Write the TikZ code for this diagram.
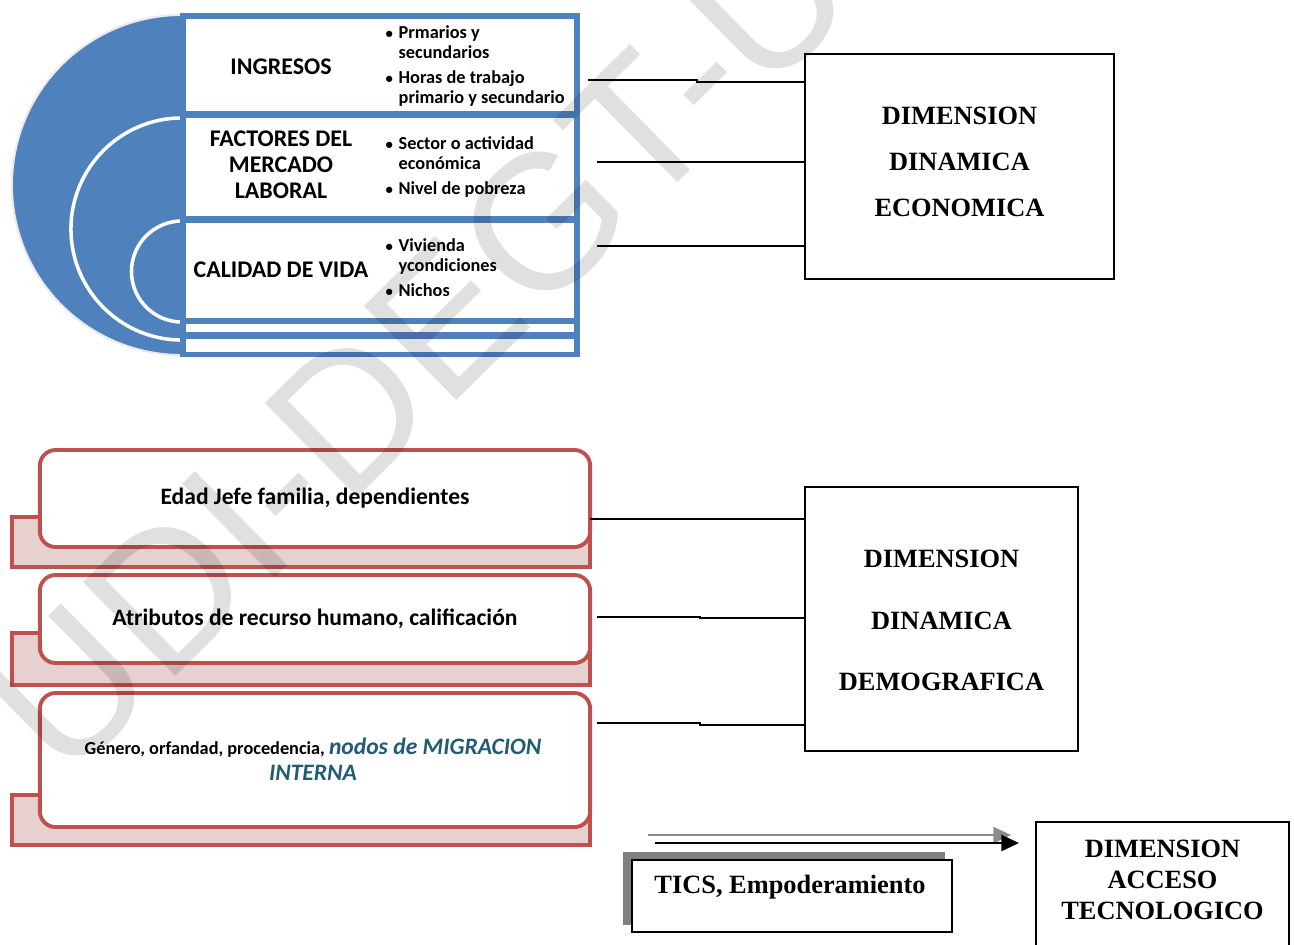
\documentclass[tikz,border=0pt]{standalone}
\usepackage{fontspec}
\setmainfont{Liberation Serif}
\newfontfamily\calibri{Carlito}
\newfontfamily\wmfont{Liberation Sans}
\usepackage{tikz}
\usetikzlibrary{positioning,arrows.meta,calc}
\definecolor{smartblue}{RGB}{79,129,189}
\definecolor{smartred}{RGB}{192,80,77}
\definecolor{smartpink}{RGB}{231,208,208}
\definecolor{migteal}{RGB}{33,92,112}
\newcommand{\bdot}{{\fontsize{4.2}{4.2}\selectfont\textbullet}}

\tikzset{
  head/.style={font=\calibri\bfseries\fontsize{6.8}{7.4}\selectfont, align=center, inner sep=0pt},
  bul/.style={font=\calibri\bfseries\fontsize{5.2}{5.75}\selectfont, anchor=west, inner sep=0pt},
  conn/.style={black, line width=0.55pt},
  dimbox/.style={draw=black, line width=0.5pt, fill=white, inner sep=0pt},
  dimtext/.style={font=\bfseries\fontsize{7.5}{13}\selectfont, align=center, inner sep=0pt},
  redback/.style={draw=smartred, fill=smartpink, line width=1.1pt},
  redfront/.style={draw=smartred, fill=white, line width=1.1pt, rounded corners=4.5pt,
    minimum width=5.5cm, inner sep=0pt, font=\calibri\bfseries\fontsize{6.7}{7.5}\selectfont, align=center},
  watermark/.style={font=\wmfont\fontsize{54.5}{54.5}\selectfont, text=black, text opacity=0.12, inner sep=0pt}
}

\begin{document}
\begin{tikzpicture}[x=0.01cm, y=-0.01cm]
\clip (0,0) rectangle (1294,944);
\fill[white] (0,0) rectangle (1294,944);

% semicirculo con arcos
\begin{scope}
  \clip (0,0) rectangle (182,400);
  \fill[smartblue] (182,185) circle (1.70cm);
  \draw[black!8, line width=0.6pt] (182,185) circle (1.70cm);
  \draw[white, line width=1pt] (182,229) circle (1.11cm);
  \draw[white, line width=1pt] (182,271.5) circle (0.505cm);
\end{scope}

% marco azul y filas
\fill[smartblue] (180,13) rectangle (580,357);
\fill[white] (186,19) rectangle (574,111);
\fill[white] (186,118) rectangle (574,216);
\fill[white] (186,223) rectangle (574,318);
\fill[white] (186,324) rectangle (574,332);
\fill[white] (186,339) rectangle (574,352);

\node[head] (ingresos) at (281,67) {INGRESOS};
\node[head] (factores) at (281,165) {FACTORES DEL\\MERCADO\\LABORAL};
\node[head] (calidad) at (281,270) {CALIDAD DE VIDA};

\node[bul] (bulA) at (385,67) {\begin{tabular}{@{}l@{\hspace{1.6pt}}l@{}}
  \bdot & Prmarios y\\ & secundarios\\[1.3pt]
  \bdot & Horas de trabajo\\ & primario y secundario\end{tabular}};
\node[bul] (bulB) at (385,168) {\begin{tabular}{@{}l@{\hspace{1.6pt}}l@{}}
  \bdot & Sector o actividad\\ & económica\\[1.3pt]
  \bdot & Nivel de pobreza\end{tabular}};
\node[bul] (bulC) at (385,269.5) {\begin{tabular}{@{}l@{\hspace{1.6pt}}l@{}}
  \bdot & Vivienda\\ & ycondiciones\\[1.3pt]
  \bdot & Nichos\end{tabular}};

% dimension economica
\node[dimbox, minimum width=3.09cm, minimum height=2.25cm] (dimeco) at (959.5,166.5) {};
\node[dimtext] (ecotext) at (959.5,162) {DIMENSION\\DINAMICA\\ECONOMICA};

\coordinate (c1) at (588,80);
\coordinate (c2) at (597,162);
\coordinate (c3) at (597,246);
\draw[conn] (c1) -- ++(109,0) -- ++(0,2) coordinate (k1) -- (k1 -| dimeco.west);
\draw[conn] (c2) -- (c2 -| dimeco.west);
\draw[conn] (c3) -- (c3 -| dimeco.west);

% bloques rojos
\draw[redback] (12,517) rectangle (590,567);
\draw[redback] (12,633) rectangle (590,685);
\draw[redback] (12,795) rectangle (590,845);

\node[redfront, minimum height=0.97cm] (edad) at (315,498.5) {Edad Jefe familia, dependientes};
\node[redfront, minimum height=0.88cm] (atributos) at (315,619) {Atributos de recurso humano, calificación};
\node[redfront, minimum height=1.34cm] (genero) at (315,760) {};
\node[font=\calibri\bfseries\fontsize{5.2}{7}\selectfont, align=center, inner sep=0pt] (generotext) at (313,759.5)
  {Género, orfandad, procedencia, {\fontsize{6.7}{7}\selectfont\itshape\color{migteal}nodos de MIGRACION}\\[0.4pt]
   {\fontsize{6.7}{7}\selectfont\itshape\color{migteal}INTERNA}};

% dimension demografica
\node[dimbox, minimum width=2.73cm, minimum height=2.64cm] (dimdem) at (941.5,619) {};
\node[dimtext, font=\bfseries\fontsize{7.5}{17.4}\selectfont] (demtext) at (941.5,620.5) {DIMENSION\\DINAMICA\\DEMOGRAFICA};

\coordinate (d1) at (590,519);
\coordinate (d2) at (597,617);
\coordinate (d3) at (597,723);
\draw[conn] (d1) -- (d1 -| dimdem.west);
\draw[conn] (d2) -- ++(103,0) -- ++(0,1) coordinate (k2) -- (k2 -| dimdem.west);
\draw[conn] (d3) -- ++(103,0) -- ++(0,2) coordinate (k3) -- (k3 -| dimdem.west);

% acceso tecnologico
\fill[black!50] (623,852) rectangle (945,925);
\node[dimbox, line width=0.7pt, minimum width=3.2cm, minimum height=0.72cm] (tics) at (792,896) {};
\node[dimtext] (ticstext) at (790,887) {TICS, Empoderamiento};

\node[dimbox, minimum width=2.53cm, minimum height=1.40cm] (dimacc) at (1162.5,892) {};
\node[dimtext, font=\bfseries\fontsize{7.5}{8.8}\selectfont] (acctext) at (1162.5,880) {DIMENSION\\ACCESO\\TECNOLOGICO};

\coordinate (g1) at (648,835);
\coordinate (g2) at (655,843);
\draw[black!45, line width=0.8pt, -{Triangle[length=5pt,width=4.5pt]}, shorten >=0.24cm] (g1) -- (g1 -| dimacc.west);
\draw[black, line width=0.8pt, -{Triangle[length=5pt,width=4.5pt]}, shorten >=0.16cm] (g2) -- (g2 -| dimacc.west);

% marca de agua
\node[watermark, rotate=44.5, anchor=base west] (marca) at (65,785) {UDI-DEGT-U};
\end{tikzpicture}
\end{document}
